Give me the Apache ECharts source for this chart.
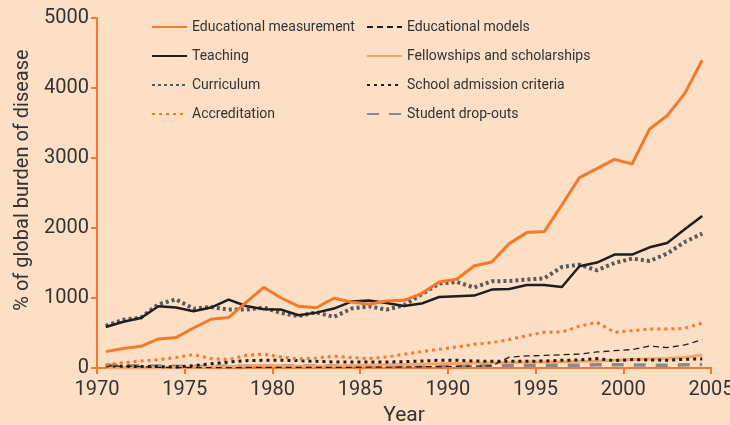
<!DOCTYPE html>
<html>
<head>
<meta charset="utf-8">
<script src="https://cdn.jsdelivr.net/npm/echarts@6/dist/echarts.min.js"></script>
<style>
html,body{margin:0;padding:0;background:#fddfc6;}
#chart{width:730px;height:425px;}
</style>
</head>
<body>
<div id="chart"></div>
<script>
// Years (values plotted at mid-year)
const years = [1970,1971,1972,1973,1974,1975,1976,1977,1978,1979,1980,1981,1982,1983,1984,1985,1986,1987,1988,1989,1990,1991,1992,1993,1994,1995,1996,1997,1998,1999,2000,2001,2002,2003,2004];
const xTicks = [1970,1975,1980,1985,1990,1995,2000,2005];
const yTicks = [0,1000,2000,3000,4000,5000];

const educationalMeasurement = [234,280,310,415,434,571,696,720,939,1153,1000,881,860,996,943,910,957,967,1063,1229,1267,1457,1514,1777,1934,1949,2329,2720,2849,2981,2914,3414,3606,3920,4396];
const teaching = [586,660,714,881,863,810,863,977,886,839,834,753,791,849,949,963,929,886,920,1014,1024,1034,1120,1129,1186,1186,1157,1453,1506,1620,1620,1724,1786,1981,2171];
const curriculum = [600,690,719,910,981,848,871,834,834,863,786,740,796,729,848,881,834,896,1053,1206,1229,1149,1239,1243,1263,1281,1443,1477,1396,1500,1563,1529,1634,1800,1920];
const accreditation = [43,75,100,120,149,191,134,120,181,196,157,129,143,167,149,134,157,196,234,267,300,339,363,406,463,510,514,596,653,510,534,557,557,567,643];
const educationalModels = [30,25,20,10,5,5,5,5,8,10,10,10,10,10,10,12,12,15,18,20,25,28,30,155,172,180,190,200,229,248,263,314,291,329,406];
const schoolAdmission = [30,25,20,20,15,34,60,85,105,110,110,105,95,86,86,86,86,90,100,110,110,100,95,95,95,100,110,115,134,105,120,115,110,125,129];
const fellowships = [5,5,5,5,5,10,15,20,30,40,30,25,25,30,35,40,45,50,55,60,65,70,75,80,85,85,90,95,100,110,120,130,135,150,185];
const dropOuts = [40,35,30,30,25,20,20,25,25,30,30,30,30,30,30,30,30,30,30,35,35,35,40,40,40,40,40,40,45,45,45,40,40,45,50];

const FONT = "Roboto,'Liberation Sans',sans-serif";
const ORANGE = '#f37a2b';
const TEXT = '#333333';

function pts(vals){ return years.map((y,i)=>[y+0.5, vals[i]]); }

function line(name, vals, color, width, type, z){
  return {
    name: name, type: 'line', data: pts(vals), symbol: 'none', z: z,
    lineStyle: {color: color, width: width, type: type, cap: 'butt'},
    itemStyle: {color: color},
    emphasis: {disabled: true}, animation: false
  };
}

const series = [
  line('Student drop-outs', dropOuts, '#8a8a8a', 3.5, [12,10], 2),
  line('Fellowships and scholarships', fellowships, '#f8a46a', 3, 'solid', 2),
  line('School admission criteria', schoolAdmission, '#1e1e1e', 3, [3,4], 3),
  line('Educational models', educationalModels, '#1e1e1e', 1.3, [6,4], 3),
  line('Accreditation', accreditation, ORANGE, 3, [3,4], 3),
  line('Curriculum', curriculum, '#5a5a5a', 4, [3,3], 4),
  line('Teaching', teaching, '#1e1e1e', 2.5, 'solid', 5),
  line('Educational measurement', educationalMeasurement, ORANGE, 3, 'solid', 6)
];

const legendCommon = {
  orient: 'vertical', top: 15, itemWidth: 35, itemHeight: 14, itemGap: 15,
  itemStyle: {opacity: 0},
  textStyle: {fontFamily: FONT, fontSize: 14, color: TEXT},
  selectedMode: false
};

const chart = echarts.init(document.getElementById('chart'), null, {renderer: 'canvas'});
chart.setOption({
  backgroundColor: '#fddfc6',
  animation: false,
  grid: {left: 97, right: 19, top: 18, bottom: 57, outerBoundsMode: 'none', containLabel: false},
  legend: [
    Object.assign({}, legendCommon, {left: 146, data: ['Educational measurement','Teaching','Curriculum','Accreditation']}),
    Object.assign({}, legendCommon, {left: 361, data: ['Educational models','Fellowships and scholarships','School admission criteria','Student drop-outs']})
  ],
  xAxis: {
    type: 'value', min: xTicks[0], max: xTicks[xTicks.length-1], interval: 5,
    name: 'Year', nameLocation: 'middle', nameGap: 37,
    nameTextStyle: {fontFamily: FONT, fontSize: 21, color: TEXT},
    axisLine: {lineStyle: {color: ORANGE, width: 2}},
    axisTick: {show: true, length: 6, lineStyle: {color: ORANGE, width: 2}},
    axisLabel: {fontFamily: FONT, fontSize: 20, color: TEXT, margin: 12, formatter: v => String(v)},
    splitLine: {show: false}
  },
  yAxis: {
    type: 'value', min: yTicks[0], max: yTicks[yTicks.length-1], interval: 1000,
    axisLine: {show: true, lineStyle: {color: ORANGE, width: 2}},
    axisTick: {show: true, length: 6, lineStyle: {color: ORANGE, width: 2}},
    axisLabel: {fontFamily: FONT, fontSize: 20, color: TEXT, margin: 8, formatter: v => String(v)},
    splitLine: {show: false}
  },
  graphic: [{
    type: 'text', x: 13, y: 180, rotation: Math.PI/2,
    style: {text: '% of global burden of disease', font: '20px ' + FONT, fill: TEXT, textAlign: 'center', textVerticalAlign: 'top'}
  }],
  series: series
});
</script>
</body>
</html>
